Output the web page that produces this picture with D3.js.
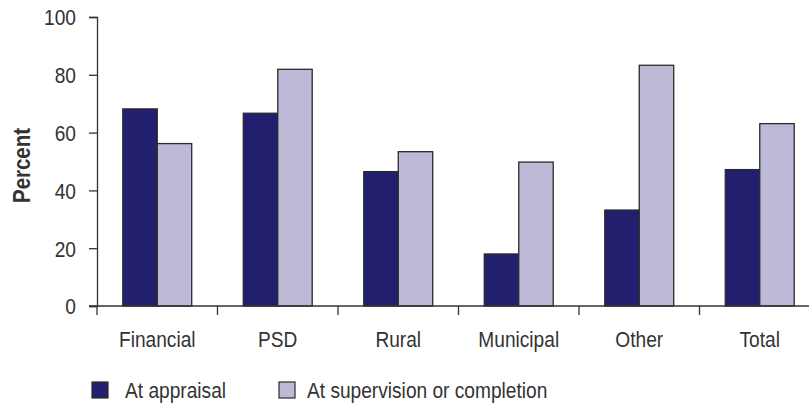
<!DOCTYPE html>
<html>
<head>
<meta charset="utf-8">
<script src="https://cdn.jsdelivr.net/npm/d3@7"></script>
<style>
  body { margin: 0; background: #fff; }
  svg { display: block; }
  text { font-family: "Liberation Sans", Arial, sans-serif; fill: #333; }
</style>
</head>
<body>
<div id="chart"></div>
<script>
const categories = ['Financial', 'PSD', 'Rural', 'Municipal', 'Other', 'Total'];
const appraisal = [68.2, 66.7, 46.5, 18.0, 33.2, 47.2];
const supervision = [56.2, 81.9, 53.4, 49.8, 83.3, 63.1];
const seriesNames = ['At appraisal', 'At supervision or completion'];
const seriesColors = ['#231f6f', '#bcbad7'];
const yTicks = [0, 20, 40, 60, 80, 100];

const width = 809, height = 404;
const squeeze = 0.87; // narrow the font to look like a condensed face

const svg = d3.select('#chart').append('svg')
  .attr('width', width)
  .attr('height', height);

const x = d3.scaleBand().domain(categories).range([97, 820]).padding(0);
const y = d3.scaleLinear().domain([0, 100]).range([306, 17]);
const barW = x.bandwidth() * 0.286;

// bars
const groups = svg.append('g').selectAll('g')
  .data(categories)
  .join('g')
  .attr('transform', (d) => `translate(${x(d) + x.bandwidth() / 2},0)`);

[appraisal, supervision].forEach((vals, s) => {
  groups.append('rect')
    .attr('x', s === 0 ? -barW : 0)
    .attr('y', (d, i) => y(vals[i]))
    .attr('width', barW)
    .attr('height', (d, i) => y(0) - y(vals[i]))
    .attr('fill', seriesColors[s])
    .attr('stroke', '#2a2a2a')
    .attr('stroke-width', 1.3);
});

// y axis
const yAxis = svg.append('g')
  .attr('transform', 'translate(97,0)')
  .call(d3.axisLeft(y).tickValues(yTicks).tickSize(8));
yAxis.select('.domain').attr('stroke', '#333').attr('stroke-width', 1.3);
yAxis.selectAll('.tick line').attr('stroke', '#333').attr('stroke-width', 1.3);
yAxis.selectAll('text')
  .style('font-size', '22px')
  .attr('fill', '#333')
  .attr('dy', '0.36em')
  .attr('transform', `scale(${squeeze},1)`)
  .attr('x', -21 / squeeze);

// x axis
const xAxis = svg.append('g')
  .attr('transform', `translate(0,${y(0)})`)
  .call(d3.axisBottom(x).tickSize(0));
xAxis.select('.domain').attr('d', `M89,0H${width}`).attr('stroke', '#333').attr('stroke-width', 1.3);
xAxis.selectAll('text')
  .style('font-size', '22px')
  .attr('fill', '#333')
  .attr('y', 41)
  .attr('dy', 0)
  .attr('transform', `scale(${squeeze},1)`);
xAxis.selectAll('.tick')
  .attr('transform', (d) => `translate(${(x(d) + x.bandwidth() / 2)},0)`);
// category separators
svg.append('g').selectAll('line')
  .data(categories)
  .join('line')
  .attr('x1', (d) => x(d)).attr('x2', (d) => x(d))
  .attr('y1', y(0)).attr('y2', y(0) + 9)
  .attr('stroke', '#333').attr('stroke-width', 1.3);

// y title
svg.append('text')
  .attr('transform', `translate(30,${(y(0) + y(100)) / 2 + 4}) rotate(-90) scale(${squeeze},1)`)
  .attr('text-anchor', 'middle')
  .style('font-size', '23.5px')
  .style('font-weight', 'bold')
  .attr('fill', '#222')
  .text('Percent');

// legend
const legendPos = [[92, 125], [279, 307]];
const legend = svg.append('g').selectAll('g')
  .data(seriesNames)
  .join('g');
legend.append('rect')
  .attr('x', (d, i) => legendPos[i][0])
  .attr('y', 382)
  .attr('width', 16).attr('height', 16)
  .attr('fill', (d, i) => seriesColors[i])
  .attr('stroke', '#2a2a2a').attr('stroke-width', 1.2);
legend.append('text')
  .attr('transform', (d, i) => `translate(${legendPos[i][1]},398) scale(${squeeze},1)`)
  .style('font-size', '22px')
  .attr('fill', '#333')
  .text((d) => d);
</script>
</body>
</html>
